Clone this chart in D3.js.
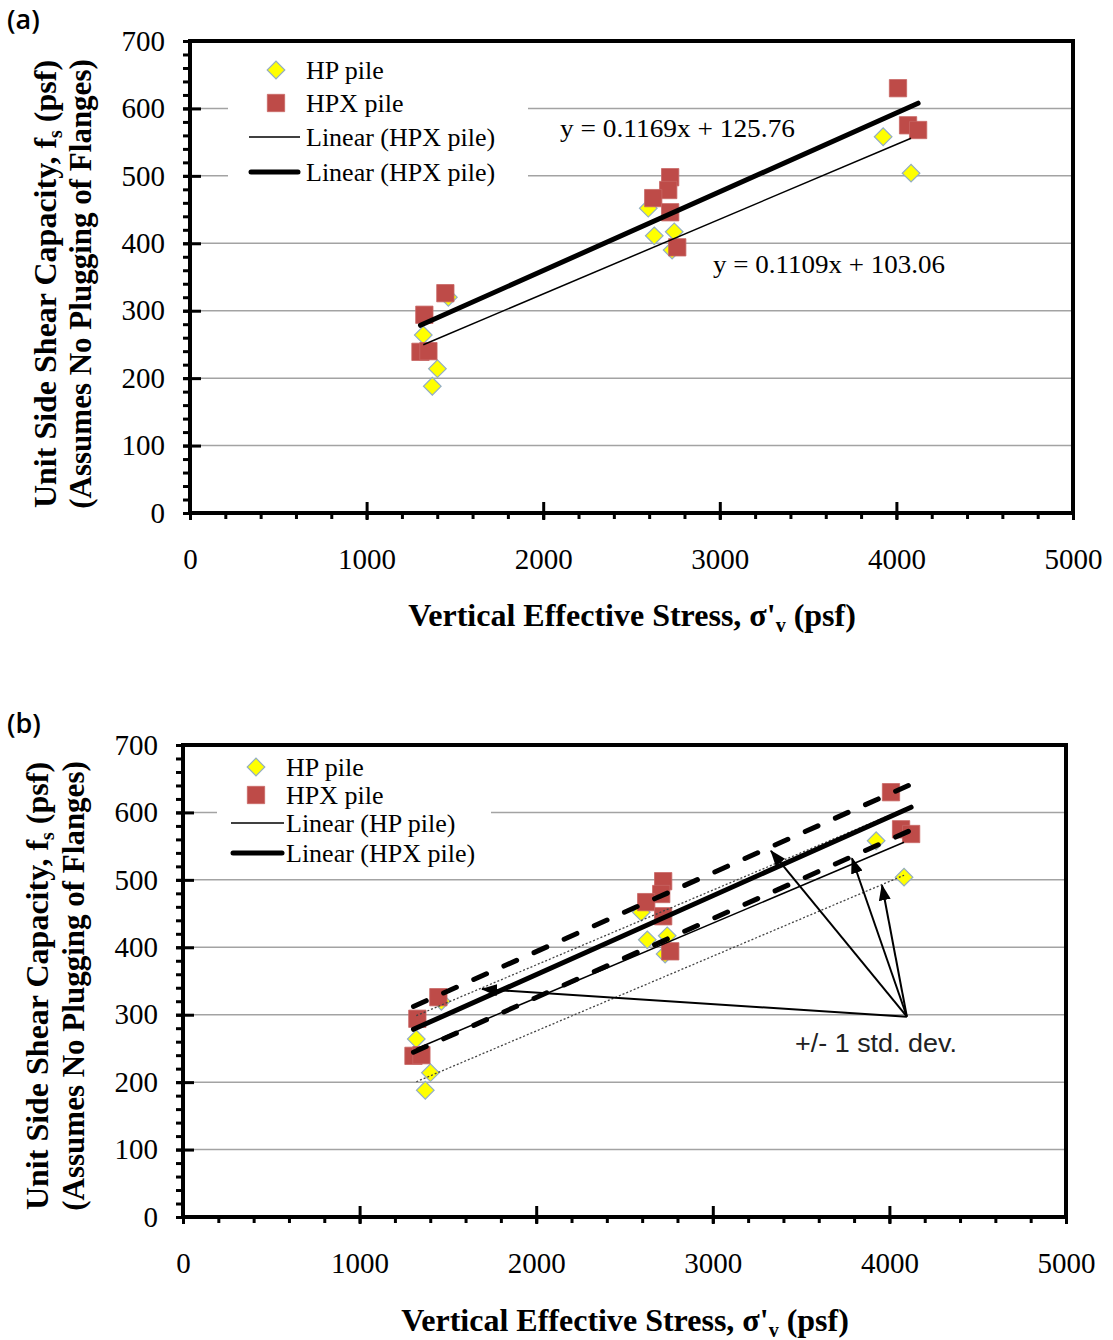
<!DOCTYPE html>
<html>
<head>
<meta charset="utf-8">
<script src="https://cdn.jsdelivr.net/npm/d3@7"></script>
<style>
body { margin: 0; background: #fff; }
</style>
</head>
<body>
<svg id="chart" width="1113" height="1340"></svg>
<script>
// values (psf)
var hpX  = [1321, 1463, 1401, 1372, 2595, 2629, 2742, 2730, 3925, 4083];
var hpY  = [264, 320, 214, 188, 452, 411, 417, 390, 558, 504];
var hpxX = [1327, 1446, 1305, 1350, 2719, 2708, 2623, 2719, 2759, 4009, 4066, 4123];
var hpxY = [294, 326, 239, 240, 498, 479, 467, 446, 394, 630, 575, 568];

// linear fits [slope, intercept] and +/- 1 std. dev. offsets
var hpFit  = [0.1109, 103.06];
var hpxFit = [0.1169, 125.76];
var hpStd  = 49;
var hpxStd = 34;

var xTicks = [0, 1000, 2000, 3000, 4000, 5000];
var yTicks = [0, 100, 200, 300, 400, 500, 600, 700];
var xMinor = d3.range(0, 5001, 200);
var yMinor = d3.range(0, 701, 20);

var legendA = ["HP pile", "HPX pile", "Linear (HPX pile)", "Linear (HPX pile)"];
var legendB = ["HP pile", "HPX pile", "Linear (HP pile)", "Linear (HPX pile)"];

// annotation in panel (b): arrows from one point to the std. dev. lines
var arrowFrom = [4099, 297];
var arrowTo = [[1693, 338], [3329, 543], [3788, 532], [3958, 492]];

var SERIF = "'Liberation Serif', 'Times New Roman', serif";
var SANS = "'Open Sans', 'Liberation Sans', sans-serif";

var panels = [
  { tag: "(a)", tagY: 29, l: 190, t: 41, r: 1073, b: 513,
    yTitleX: [56, 91], yTitleCY: 284, xTitleCX: 632, xTitleY: 626,
    leg: { x: 228, y: 48, w: 300, h: 146, mx: 276, lx: [249, 300], tx: 306, rows: [70, 103, 137, 172] },
    labels: legendA, eqs: true, std: false },
  { tag: "(b)", tagY: 733, l: 183, t: 745, r: 1066, b: 1217,
    yTitleX: [48, 84], yTitleCY: 986, xTitleCX: 625, xTitleY: 1331,
    leg: { x: 217, y: 750, w: 274, h: 118, mx: 256, lx: [231, 284], tx: 286, rows: [767, 795, 823, 853] },
    labels: legendB, eqs: false, std: true }
];

var svg = d3.select("#chart");
svg.append("rect").attr("width", 1113).attr("height", 1340).attr("fill", "#fff");

var defs = svg.append("defs");
defs.append("marker").attr("id", "arrow")
  .attr("viewBox", "0 0 16 12").attr("refX", 15).attr("refY", 6)
  .attr("markerWidth", 16).attr("markerHeight", 12)
  .attr("markerUnits", "userSpaceOnUse").attr("orient", "auto")
  .append("path").attr("d", "M0,0 L16,6 L0,12 Z").attr("fill", "#000");

var diamond = d3.symbol().type(d3.symbolSquare).size(155);
var square = d3.symbol().type(d3.symbolSquare).size(300);

panels.forEach(drawPanel);

function fitPoints(xs, fit, off) {
  var e = d3.extent(xs);
  return e.map(function (v) { return [v, fit[0] * v + fit[1] + off]; });
}

function drawPanel(p) {
  var g = svg.append("g");
  var x = d3.scaleLinear().domain([0, 5000]).range([p.l, p.r]);
  var y = d3.scaleLinear().domain([0, 700]).range([p.b, p.t]);

  // gridlines
  g.selectAll("line.grid").data(yTicks.slice(1, -1)).join("line")
    .attr("class", "grid")
    .attr("x1", p.l).attr("x2", p.r)
    .attr("y1", function (d) { return y(d); }).attr("y2", function (d) { return y(d); })
    .attr("stroke", "#a3a3a3").attr("stroke-width", 1.5);

  // legend background hides the gridlines
  g.append("rect").attr("x", p.leg.x).attr("y", p.leg.y)
    .attr("width", p.leg.w).attr("height", p.leg.h).attr("fill", "#fff");

  // minor ticks
  var xm = g.append("g").attr("transform", "translate(0," + p.b + ")")
    .call(d3.axisBottom(x).tickValues(xMinor).tickSize(6).tickFormat(""));
  var ym = g.append("g").attr("transform", "translate(" + p.l + ",0)")
    .call(d3.axisLeft(y).tickValues(yMinor).tickSize(7).tickFormat(""));

  // major ticks and labels
  var xa = g.append("g").attr("transform", "translate(0," + p.b + ")")
    .call(d3.axisBottom(x).tickValues(xTicks).tickSize(7).tickPadding(28).tickFormat(d3.format("d")));
  xa.selectAll(".tick line").attr("y1", -11);
  var ya = g.append("g").attr("transform", "translate(" + p.l + ",0)")
    .call(d3.axisLeft(y).tickValues(yTicks).tickSize(7).tickPadding(18).tickFormat(d3.format("d")));
  ya.selectAll(".tick line").attr("x1", 11);

  [xm, ym, xa, ya].forEach(function (a) {
    a.select(".domain").remove();
    a.selectAll(".tick line").attr("stroke", "#000").attr("stroke-width", 3);
    a.selectAll(".tick text").attr("fill", "#000")
      .style("font-family", SERIF).style("font-size", "29px");
  });

  // plot frame
  g.append("rect").attr("x", p.l).attr("y", p.t)
    .attr("width", p.r - p.l).attr("height", p.b - p.t)
    .attr("fill", "none").attr("stroke", "#000").attr("stroke-width", 4);

  // markers
  g.selectAll("path.hp").data(hpX).join("path")
    .attr("class", "hp")
    .attr("d", diamond)
    .attr("transform", function (d, i) { return "translate(" + x(d) + "," + y(hpY[i]) + ") rotate(45)"; })
    .attr("fill", "#ffff00").attr("stroke", "#93aec4").attr("stroke-width", 1.2);
  g.selectAll("path.hpx").data(hpxX).join("path")
    .attr("class", "hpx")
    .attr("d", square)
    .attr("transform", function (d, i) { return "translate(" + x(d) + "," + y(hpxY[i]) + ")"; })
    .attr("fill", "#be4b48").attr("stroke", "#c86663").attr("stroke-width", 0.8);

  var line = d3.line().x(function (d) { return x(d[0]); }).y(function (d) { return y(d[1]); });

  // std. dev. bands (panel b)
  if (p.std) {
    [hpStd, -hpStd].forEach(function (s) {
      g.append("path").attr("d", line(fitPoints(hpX, hpFit, s)))
        .attr("fill", "none").attr("stroke", "#444").attr("stroke-width", 1.3)
        .attr("stroke-dasharray", "2,2");
    });
    [hpxStd, -hpxStd].forEach(function (s) {
      g.append("path").attr("d", line(fitPoints(hpxX, hpxFit, s)))
        .attr("fill", "none").attr("stroke", "#000").attr("stroke-width", 5)
        .attr("stroke-linecap", "round").attr("stroke-dasharray", "14,19");
    });
  }

  // trendlines
  g.append("path").attr("d", line(fitPoints(hpX, hpFit, 0)))
    .attr("fill", "none").attr("stroke", "#000").attr("stroke-width", 1.5);
  g.append("path").attr("d", line(fitPoints(hpxX, hpxFit, 0)))
    .attr("fill", "none").attr("stroke", "#000").attr("stroke-width", 5)
    .attr("stroke-linecap", "round");

  // legend
  var L = p.leg;
  g.append("path").attr("d", diamond)
    .attr("transform", "translate(" + L.mx + "," + L.rows[0] + ") rotate(45)")
    .attr("fill", "#ffff00").attr("stroke", "#93aec4").attr("stroke-width", 1.2);
  g.append("path").attr("d", square)
    .attr("transform", "translate(" + L.mx + "," + L.rows[1] + ")")
    .attr("fill", "#be4b48").attr("stroke", "#c86663").attr("stroke-width", 0.8);
  g.append("line").attr("x1", L.lx[0]).attr("x2", L.lx[1]).attr("y1", L.rows[2]).attr("y2", L.rows[2])
    .attr("stroke", "#000").attr("stroke-width", 1.5);
  g.append("line").attr("x1", L.lx[0] + 2).attr("x2", L.lx[1] - 2).attr("y1", L.rows[3]).attr("y2", L.rows[3])
    .attr("stroke", "#000").attr("stroke-width", 5).attr("stroke-linecap", "round");
  g.selectAll("text.leg").data(p.labels).join("text")
    .attr("class", "leg")
    .attr("x", L.tx).attr("y", function (d, i) { return L.rows[i] + 9; })
    .style("font-family", SERIF).style("font-size", "26px")
    .text(function (d) { return d; });

  // fit equations (panel a)
  if (p.eqs) {
    g.append("text").attr("x", 560).attr("y", 137)
      .style("font-family", SERIF).style("font-size", "25px")
      .attr("textLength", 235).attr("lengthAdjust", "spacingAndGlyphs")
      .text("y = " + hpxFit[0] + "x + " + hpxFit[1]);
    g.append("text").attr("x", 713).attr("y", 273)
      .style("font-family", SERIF).style("font-size", "25px")
      .attr("textLength", 232).attr("lengthAdjust", "spacingAndGlyphs")
      .text("y = " + hpFit[0] + "x + " + hpFit[1]);
  }

  // std. dev. annotation (panel b)
  if (p.std) {
    g.selectAll("line.arr").data(arrowTo).join("line")
      .attr("class", "arr")
      .attr("x1", x(arrowFrom[0])).attr("y1", y(arrowFrom[1]))
      .attr("x2", function (d) { return x(d[0]); }).attr("y2", function (d) { return y(d[1]); })
      .attr("stroke", "#000").attr("stroke-width", 2)
      .attr("marker-end", "url(#arrow)");
    g.append("text").attr("x", 795).attr("y", 1052)
      .style("font-family", "'Liberation Sans', Arial, sans-serif").style("font-size", "26px")
      .attr("fill", "#222")
      .attr("textLength", 162).attr("lengthAdjust", "spacingAndGlyphs")
      .text("+/- 1 std. dev.");
  }

  // panel tag
  g.append("text").attr("x", 7).attr("y", p.tagY)
    .style("font-family", SANS).style("font-size", "27px").style("font-weight", 600)
    .text(p.tag);

  // axis titles
  var xt = g.append("text").attr("x", p.xTitleCX).attr("y", p.xTitleY)
    .attr("text-anchor", "middle")
    .style("font-family", SERIF).style("font-size", "32px").style("font-weight", "bold");
  xt.append("tspan").text("Vertical Effective Stress, \u03c3'");
  xt.append("tspan").style("font-size", "20px").attr("dy", 6).text("v");
  xt.append("tspan").attr("dy", -6).text(" (psf)");

  var yt1 = g.append("text")
    .attr("transform", "translate(" + p.yTitleX[0] + "," + p.yTitleCY + ") rotate(-90)")
    .attr("text-anchor", "middle")
    .style("font-family", SERIF).style("font-size", "32px").style("font-weight", "bold");
  yt1.append("tspan").text("Unit Side Shear Capacity, f");
  yt1.append("tspan").style("font-size", "20px").attr("dy", 6).text("s");
  yt1.append("tspan").attr("dy", -6).text(" (psf)");
  g.append("text")
    .attr("transform", "translate(" + p.yTitleX[1] + "," + p.yTitleCY + ") rotate(-90)")
    .attr("text-anchor", "middle")
    .style("font-family", SERIF).style("font-size", "31px").style("font-weight", "bold")
    .text("(Assumes No Plugging of Flanges)");
}
</script>
</body>
</html>
